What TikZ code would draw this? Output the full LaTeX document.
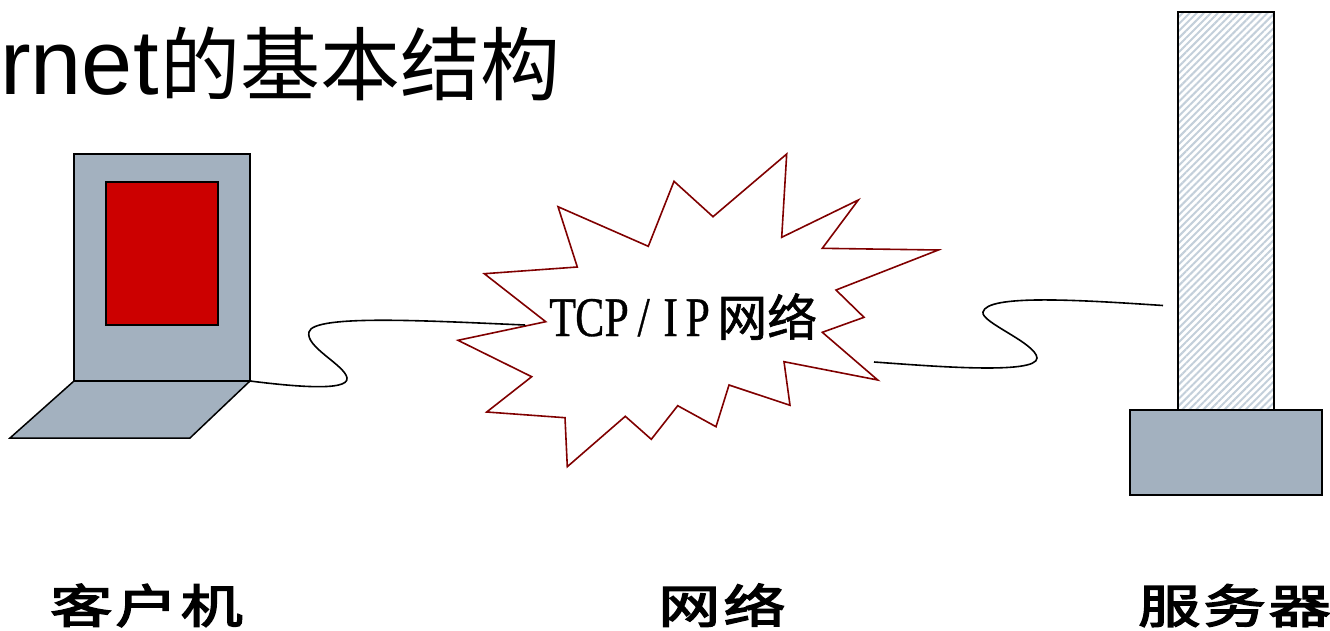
\documentclass[tikz,border=0pt]{standalone}
\usepackage{fontspec}
\usetikzlibrary{patterns.meta}
\setmainfont{Liberation Sans}
\newfontfamily\cjk{Noto Sans CJK SC}
\newfontfamily\cjkheavy[FakeBold=3.5,FakeStretch=1.35,LetterSpace=7]{Noto Sans CJK SC}
\newfontfamily\cjkmid[FakeBold=1.2]{Noto Sans CJK SC}
\newfontfamily\netserif[FakeStretch=0.78,FakeBold=0.6]{Liberation Serif}
\newcommand{\cellch}[1]{\makebox[27pt][c]{#1}}
\definecolor{slategrey}{HTML}{A3B1BF}
\definecolor{alertred}{HTML}{CC0000}
\definecolor{starred}{HTML}{800000}
\definecolor{hatchblue}{HTML}{C3CFDA}
\tikzset{
  box/.style={draw=black,line width=1.5pt,rectangle,inner sep=0pt,outer sep=0pt},
  greybox/.style={box,fill=slategrey},
  wire/.style={draw=black,line width=1.6pt},
  caption/.style={inner sep=0pt,font=\cjkheavy\fontsize{46}{46}\selectfont},
}
\begin{document}
\begin{tikzpicture}[x=1pt,y=-1pt]
\useasboundingbox (0,0) rectangle (1330,630);
\clip (0,0) rectangle (1330,630);
% title
\node[anchor=base west,inner sep=0pt] (title) at (0,94)
  {\fontsize{92}{92}\selectfont rnet\kern2pt{\cjk\fontsize{80}{80}\selectfont 的基本结构}};
% client
\node[greybox,minimum width=176pt,minimum height=227pt] (screen) at (162,267.5) {};
\node[box,fill=alertred,minimum width=112pt,minimum height=143pt] (panel) at (162,253.5) {};
\draw[box,fill=slategrey] (74,381) coordinate (kbA) -- (250,381) coordinate (kbB) -- (190,438) -- (10,438) -- cycle;
% server
\node[box,fill=white,pattern={Lines[angle=45,distance=5pt,line width=2pt]},pattern color=hatchblue,minimum width=96pt,minimum height=398pt] (tower) at (1226,211) {};
\node[greybox,minimum width=192pt,minimum height=85pt] (base) at (1226,452.5) {};
% cloud
\draw[draw=starred,line width=1.6pt,fill=white,line join=miter]
  (786.7,154) -- (781.7,237.3) -- (858.3,200) -- (822.3,248.3) -- (938.3,250)
  -- (836,290) -- (864,317.3) -- (822.3,332.3) -- (877.7,380) -- (784,361.7)
  -- (790,405.3) -- (729,385) -- (716,426.7) -- (677.7,405.7) -- (651.3,439.3)
  -- (625.3,416.3) -- (567.3,466.7) -- (565,417.7) -- (486.7,412) -- (531.7,376.7)
  -- (458,340.3) -- (545.7,321.7) -- (484.3,273.7) -- (577.3,267) -- (558,206.7)
  -- (648.3,246.3) -- (674,181.3) -- (713,216.7) -- cycle;
\node[inner sep=0pt,anchor=base west] (net) at (549,336)
  {\fontsize{56}{56}\selectfont\netserif\cellch{T}\cellch{C}\cellch{P}\cellch{/}\cellch{I}\cellch{P}\kern6pt{\cjkmid\fontsize{50}{50}\selectfont 网络}};
% connectors
\coordinate (cloudW) at (525,325);
\coordinate (cloudE) at (874,362);
\coordinate (towerW) at (1163,305.5);
\draw[wire] (kbB) .. controls (290,386) and (349,392) .. (347,378)
  .. controls (345,365) and (305,347) .. (309,332)
  .. controls (313,314) and (430,321) .. (cloudW);
\draw[wire] (cloudE) .. controls (930,366) and (1037,375) .. (1037,358)
  .. controls (1036,343) and (980,322) .. (983,312)
  .. controls (987,294) and (1080,300) .. (towerW);
% captions
\node[caption,anchor=base west] (c1) at (50,623) {客户机};
\node[caption,anchor=base west] (c2) at (658,623) {网络};
\node[caption,anchor=base west] (c3) at (1138,623) {服务器};
\end{tikzpicture}
\end{document}
